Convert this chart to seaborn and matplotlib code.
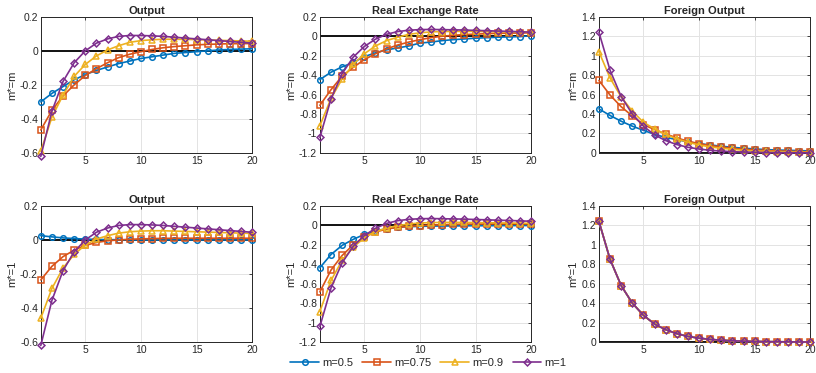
"""
Impulse responses (Output, Real Exchange Rate, Foreign Output) for m*=m and m*=1.
Saves out.png.
"""
import matplotlib
matplotlib.use("Agg")
import matplotlib.pyplot as plt
from matplotlib.ticker import FuncFormatter, MultipleLocator
import numpy as np
import seaborn as sns

periods = list(range(1, 21))
labels = ["m=0.5", "m=0.75", "m=0.9", "m=1"]
colors = ["#0072BD", "#D95319", "#EDB120", "#7E2F8E"]
markers = ["o", "s", "^", "D"]

# row 1: m* = m
out_mm = [
    [-0.30, -0.25, -0.21, -0.17, -0.14, -0.115, -0.095, -0.075, -0.06, -0.045,
     -0.035, -0.025, -0.015, -0.01, -0.005, 0.0, 0.005, 0.008, 0.01, 0.012],
    [-0.465, -0.35, -0.265, -0.20, -0.145, -0.105, -0.07, -0.04, -0.02, -0.005,
     0.008, 0.018, 0.025, 0.03, 0.035, 0.038, 0.04, 0.042, 0.042, 0.043],
    [-0.59, -0.39, -0.26, -0.15, -0.08, -0.03, 0.005, 0.03, 0.05, 0.06,
     0.065, 0.068, 0.068, 0.067, 0.066, 0.064, 0.062, 0.06, 0.058, 0.056],
    [-0.62, -0.355, -0.18, -0.07, 0.0, 0.045, 0.07, 0.085, 0.09, 0.09,
     0.088, 0.085, 0.08, 0.075, 0.07, 0.065, 0.06, 0.055, 0.05, 0.045],
]
rer_mm = [
    [-0.446, -0.37, -0.315, -0.27, -0.21, -0.17, -0.14, -0.12, -0.10, -0.07,
     -0.06, -0.045, -0.035, -0.028, -0.02, -0.015, -0.01, -0.007, -0.004, 0.005],
    [-0.71, -0.55, -0.41, -0.32, -0.24, -0.18, -0.13, -0.09, -0.06, -0.035,
     -0.015, 0.0, 0.01, 0.017, 0.022, 0.026, 0.03, 0.032, 0.033, 0.035],
    [-0.92, -0.64, -0.44, -0.29, -0.18, -0.10, -0.045, -0.01, 0.02, 0.035,
     0.045, 0.048, 0.05, 0.05, 0.05, 0.047, 0.046, 0.045, 0.043, 0.042],
    [-1.04, -0.645, -0.385, -0.215, -0.105, -0.03, 0.02, 0.048, 0.062, 0.068,
     0.07, 0.068, 0.066, 0.064, 0.06, 0.057, 0.053, 0.05, 0.046, 0.042],
]
fout_mm = [
    [0.453, 0.385, 0.326, 0.275, 0.233, 0.19, 0.16, 0.137, 0.113, 0.096,
     0.082, 0.069, 0.058, 0.048, 0.041, 0.034, 0.03, 0.027, 0.024, 0.02],
    [0.745, 0.595, 0.475, 0.38, 0.29, 0.24, 0.195, 0.155, 0.12, 0.096,
     0.075, 0.062, 0.048, 0.038, 0.031, 0.024, 0.02, 0.017, 0.014, 0.01],
    [1.04, 0.77, 0.575, 0.43, 0.315, 0.247, 0.19, 0.144, 0.11, 0.082,
     0.062, 0.048, 0.038, 0.027, 0.02, 0.017, 0.014, 0.011, 0.008, 0.007],
    [1.24, 0.85, 0.58, 0.40, 0.275, 0.185, 0.127, 0.086, 0.058, 0.04,
     0.027, 0.019, 0.013, 0.009, 0.006, 0.004, 0.003, 0.002, 0.001, 0.001],
]

# row 2: m* = 1
out_m1 = [
    [0.025, 0.018, 0.012, 0.008, 0.005, 0.003, 0.002, 0.001, 0.0, 0.0,
     0.0, 0.0, 0.0, 0.0, 0.0, 0.0, 0.0, 0.0, 0.0, 0.0],
    [-0.235, -0.155, -0.098, -0.06, -0.032, -0.015, -0.005, 0.0, 0.004, 0.006,
     0.008, 0.009, 0.01, 0.01, 0.01, 0.01, 0.01, 0.01, 0.01, 0.01],
    [-0.46, -0.285, -0.165, -0.085, -0.03, 0.005, 0.025, 0.04, 0.048, 0.052,
     0.054, 0.054, 0.052, 0.05, 0.048, 0.046, 0.044, 0.042, 0.04, 0.038],
    out_mm[3],
]
rer_m1 = [
    [-0.436, -0.30, -0.206, -0.144, -0.093, -0.058, -0.034, -0.02, -0.014, -0.01,
     -0.008, -0.007, -0.006, -0.005, -0.004, -0.004, -0.003, -0.003, -0.002, -0.002],
    [-0.684, -0.46, -0.31, -0.20, -0.117, -0.069, -0.038, -0.02, -0.01, -0.003,
     0.003, 0.006, 0.01, 0.012, 0.013, 0.014, 0.015, 0.015, 0.015, 0.015],
    [-0.886, -0.567, -0.36, -0.224, -0.128, -0.065, -0.028, -0.003, 0.014, 0.024,
     0.028, 0.03, 0.03, 0.03, 0.028, 0.027, 0.025, 0.024, 0.022, 0.021],
    rer_mm[3],
]
fout_m1 = [fout_mm[3], fout_mm[3], fout_mm[3], fout_mm[3]]

titles = ["Output", "Real Exchange Rate", "Foreign Output"]
row_labels = ["m*=m", "m*=1"]
ylims = [(-0.6, 0.2), (-1.2, 0.2), (0, 1.4)]

sns.set_style("whitegrid")
plt.rcParams["font.family"] = ["Liberation Sans", "DejaVu Sans"]

fig = plt.figure(figsize=(8.16, 3.73), dpi=100)
lefts = [0.050, 0.392, 0.734]
bottoms = [0.590, 0.083]
w, h = 0.259, 0.365

fmt = FuncFormatter(lambda v, p: f"{v:g}" if abs(v) > 1e-9 else "0")

rows = [[out_mm, rer_mm, fout_mm], [out_m1, rer_m1, fout_m1]]
for r, row in enumerate(rows):
    for c, series in enumerate(row):
        ax = fig.add_axes([lefts[c], bottoms[r], w, h])
        ax.axhline(0, color="black", lw=1.3, zorder=1)
        for vals, lab, col, mk in zip(series, labels, colors, markers):
            sns.lineplot(x=periods, y=vals, ax=ax, color=col, marker=mk,
                         markersize=4 if mk != "D" else 3.5,
                         markeredgecolor=col, markerfacecolor="none",
                         markeredgewidth=1.1, linewidth=1.2,
                         label=lab if (r == 0 and c == 0) else None,
                         legend=False, zorder=3, clip_on=False)
        ax.set_xlim(1, 20)
        ax.set_ylim(*ylims[c])
        ax.xaxis.set_major_locator(MultipleLocator(5))
        ax.yaxis.set_major_locator(MultipleLocator(0.2))
        ax.yaxis.set_major_formatter(fmt)
        ax.grid(True, color="#e3e3e3", lw=0.7)
        for s in ax.spines.values():
            s.set_visible(True)
            s.set_color("#262626")
            s.set_linewidth(0.7)
        ax.tick_params(direction="in", length=2.5, width=0.6, labelsize=7.5,
                       colors="#262626", top=True, right=True, pad=2)
        ax.set_title(titles[c], fontsize=8, fontweight="bold", pad=2)
        ax.set_ylabel(row_labels[r], fontsize=8, labelpad=2)
        ax.set_xlabel("")
        if r == 0 and c == 0:
            handles, hl = ax.get_legend_handles_labels()

fig.legend(handles, hl, loc="center", bbox_to_anchor=(0.525, 0.027), ncol=4,
           frameon=False, fontsize=8, handlelength=2.6, columnspacing=0.8,
           handletextpad=0.3, borderpad=0.1)

fig.savefig("out.png", dpi=100)
